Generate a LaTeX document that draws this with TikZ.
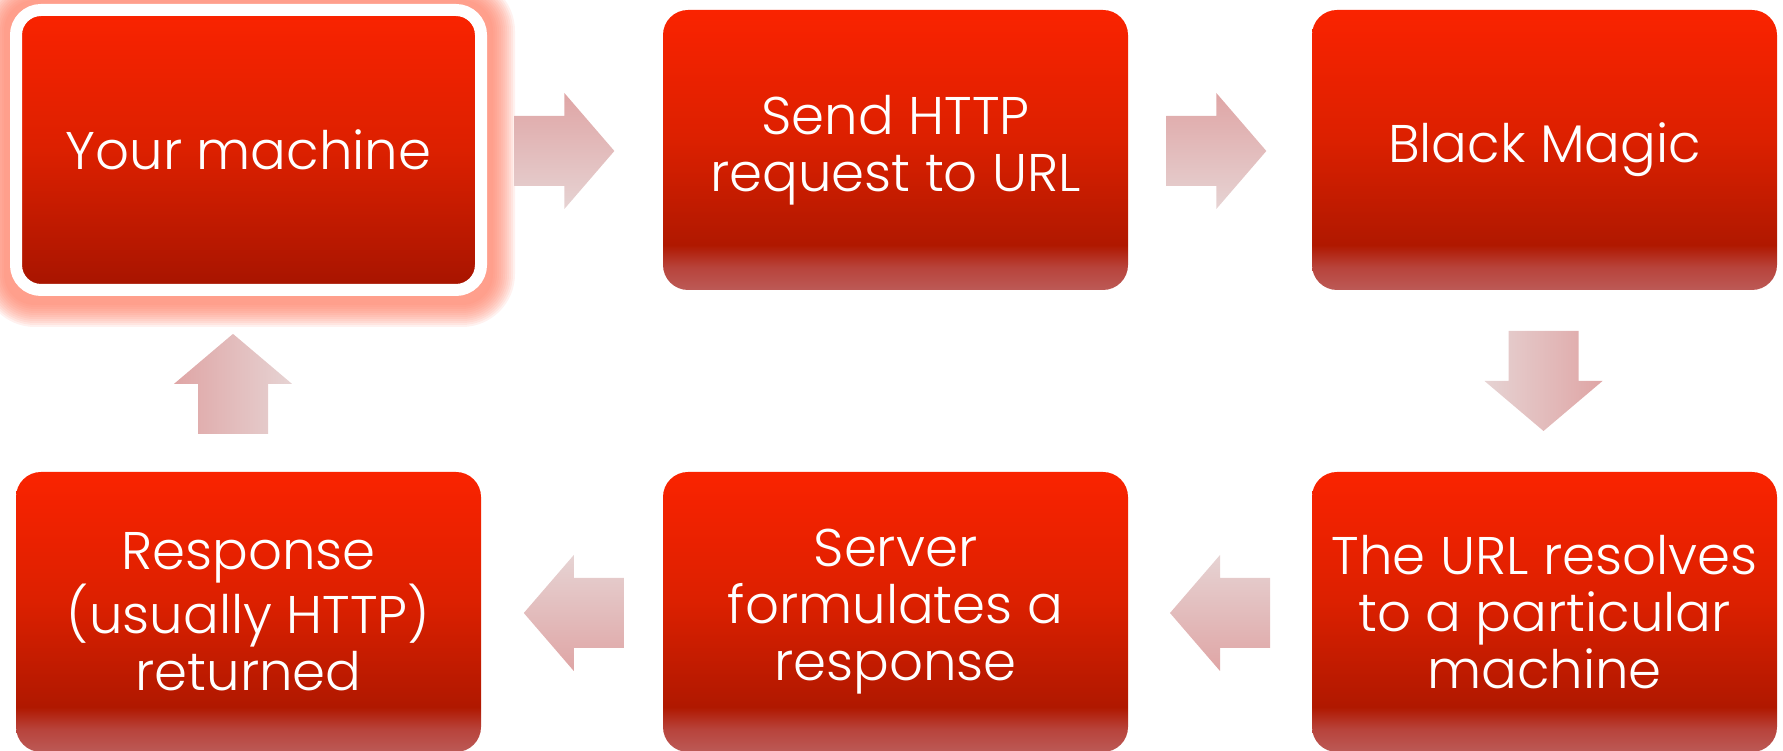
\documentclass[tikz,border=0pt]{standalone}
\usepackage{fontspec}
\setmainfont{Poppins Light}
\usetikzlibrary{backgrounds,calc}
\definecolor{topR}{HTML}{FA2300}
\definecolor{midR}{HTML}{DC2000}
\definecolor{darkR}{HTML}{B01800}
\definecolor{bandA}{HTML}{B8443C}
\definecolor{bandB}{HTML}{BC5A56}
\definecolor{selBot}{HTML}{A61400}
\definecolor{pinkA}{HTML}{DFA5A5}
\definecolor{pinkL}{HTML}{E6D3D3}
\definecolor{glowc}{HTML}{FF7A60}
\pgfdeclareverticalshading{boxband}{100bp}{color(0bp)=(bandB); color(25bp)=(bandB); color(29bp)=(bandA); color(33bp)=(darkR); color(52bp)=(midR); color(75bp)=(topR); color(100bp)=(topR)}
\pgfdeclareverticalshading{boxsel}{100bp}{color(0bp)=(selBot); color(25bp)=(selBot); color(50bp)=(midR); color(75bp)=(topR); color(100bp)=(topR)}
\tikzset{
  box/.style={shade, shading=boxband, rounded corners=25pt, minimum width=465pt, minimum height=280pt,
    inner sep=0pt, text=white, align=center, font=\fontsize{53}{57}\selectfont},
  selbox/.style={box, shading=boxsel, draw=white, line width=12pt},
  arrowR/.style={top color=pinkA, middle color=pinkA, bottom color=pinkL},
  arrowL/.style={top color=pinkL, middle color=pinkA, bottom color=pinkA},
  arrowD/.style={left color=pinkL, middle color=pinkA, right color=pinkA},
  arrowU/.style={left color=pinkA, middle color=pinkA, right color=pinkL},
}
\begin{document}
\begin{tikzpicture}[x=1pt,y=1pt]
\useasboundingbox (0,0) rectangle (1783,751);
\node[selbox] (b1) at (248.5,601) {Your machine};
\node[box] (b2) at (895.5,601) {Send HTTP\\request to URL};
\node[box] (b3) at (1544.5,601) {Black Magic};
\node[box] (b6) at (1544.5,139) {The URL resolves\\to a particular\\machine};
\node[box] (b5) at (895.5,139) {Server\\formulates a\\response};
\node[box] (b4) at (248.5,139) {Response\\(usually HTTP)\\returned};
\begin{scope}[on background layer]
  \foreach \r in {6,8,...,28} {
    \fill[glowc, opacity=0.1, rounded corners=25pt+\r pt]
      ([shift={(-\r,-\r-3)}]b1.south west) rectangle ([shift={(\r,\r-2)}]b1.north east);
  }
\end{scope}
% connectors (block arrows)
\coordinate (a12) at ($(b1.east)!0.44!(b2.west)+(0,-1)$);
\coordinate (a23) at ($(b2.east)!0.48!(b3.west)+(0,-1)$);
\coordinate (a36) at ($(b3.south)!0.5!(b6.north)+(-1,0)$);
\coordinate (a65) at ($(b6.west)!0.50!(b5.east)+(0,-1)$);
\coordinate (a54) at ($(b5.west)!0.49!(b4.east)+(0,-1)$);
\coordinate (a41) at ($(b4.north)!0.5!(b1.south)+(-15.5,0)$);
\shade[arrowR] ([shift={(-50,-35)}]a12) -- ++(50,0) -- ++(0,-23) -- ++(50,58) -- ++(-50,58) -- ++(0,-23) -- ++(-50,0) -- cycle;
\shade[arrowR] ([shift={(-50,-35)}]a23) -- ++(50,0) -- ++(0,-23) -- ++(50,58) -- ++(-50,58) -- ++(0,-23) -- ++(-50,0) -- cycle;
\shade[arrowL] ([shift={(50,-35)}]a65) -- ++(-50,0) -- ++(0,-23) -- ++(-50,58) -- ++(50,58) -- ++(0,-23) -- ++(50,0) -- cycle;
\shade[arrowL] ([shift={(50,-35)}]a54) -- ++(-50,0) -- ++(0,-23) -- ++(-50,58) -- ++(50,58) -- ++(0,-23) -- ++(50,0) -- cycle;
\shade[arrowD] ([shift={(-35,50)}]a36) -- ++(0,-50) -- ++(-24,0) -- ++(59,-50) -- ++(59,50) -- ++(-24,0) -- ++(0,50) -- cycle;
\shade[arrowU] ([shift={(-35,-50)}]a41) -- ++(0,50) -- ++(-24,0) -- ++(59,50) -- ++(59,-50) -- ++(-24,0) -- ++(0,-50) -- cycle;
\end{tikzpicture}
\end{document}
